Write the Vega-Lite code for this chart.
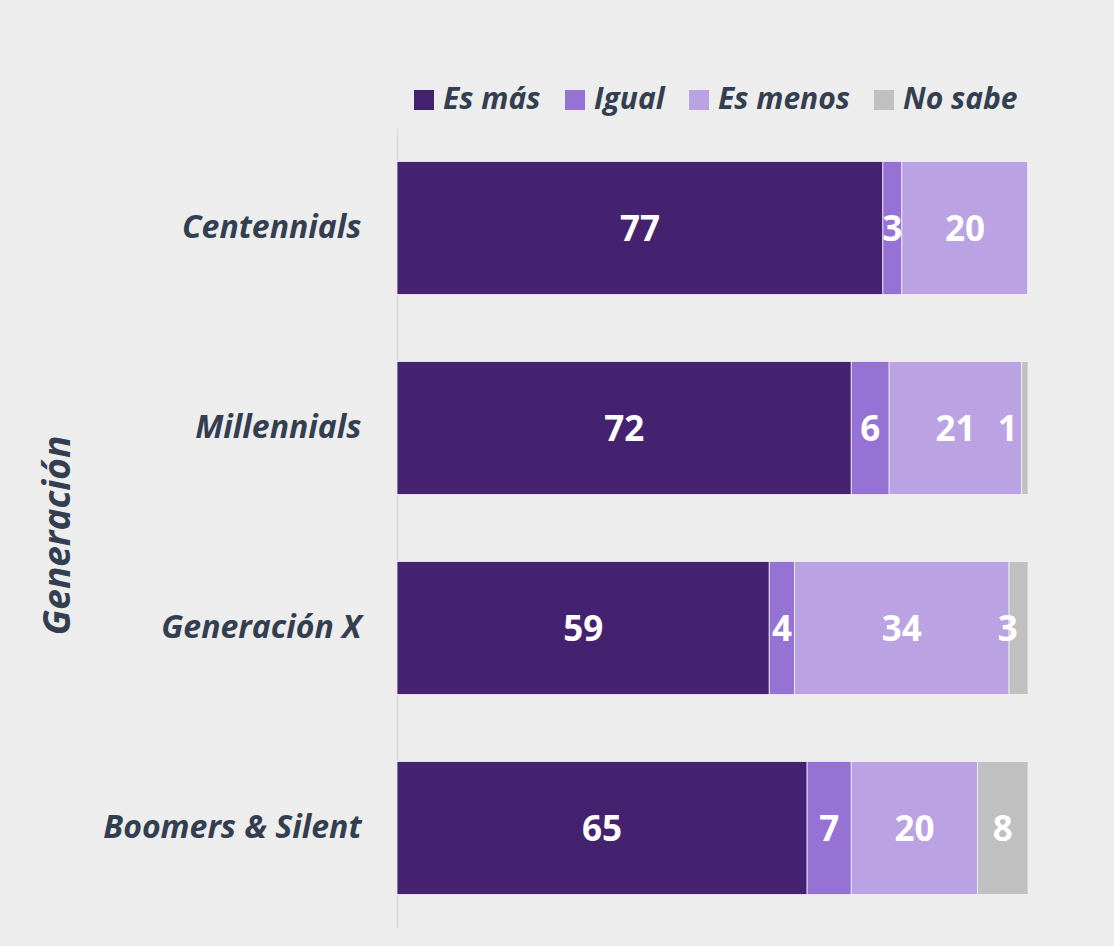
{
  "$schema": "https://vega.github.io/schema/vega-lite/v6.json",
  "autosize": {"type": "none"},
  "width": 631,
  "height": 800,
  "padding": {"left": 397, "top": 128, "right": 86, "bottom": 18},
  "background": "#EDEDED",
  "config": {"view": {"stroke": null}, "font": "Open Sans"},
  "data": {
    "values": [
      {"gen": "Centennials", "resp": "Es más", "n": 1, "pct": 77},
      {"gen": "Centennials", "resp": "Igual", "n": 2, "pct": 3},
      {"gen": "Centennials", "resp": "Es menos", "n": 3, "pct": 20},
      {"gen": "Centennials", "resp": "No sabe", "n": 4, "pct": 0},
      {"gen": "Millennials", "resp": "Es más", "n": 1, "pct": 72},
      {"gen": "Millennials", "resp": "Igual", "n": 2, "pct": 6},
      {"gen": "Millennials", "resp": "Es menos", "n": 3, "pct": 21},
      {"gen": "Millennials", "resp": "No sabe", "n": 4, "pct": 1},
      {"gen": "Generación X", "resp": "Es más", "n": 1, "pct": 59},
      {"gen": "Generación X", "resp": "Igual", "n": 2, "pct": 4},
      {"gen": "Generación X", "resp": "Es menos", "n": 3, "pct": 34},
      {"gen": "Generación X", "resp": "No sabe", "n": 4, "pct": 3},
      {"gen": "Boomers & Silent", "resp": "Es más", "n": 1, "pct": 65},
      {"gen": "Boomers & Silent", "resp": "Igual", "n": 2, "pct": 7},
      {"gen": "Boomers & Silent", "resp": "Es menos", "n": 3, "pct": 20},
      {"gen": "Boomers & Silent", "resp": "No sabe", "n": 4, "pct": 8}
    ]
  },
  "transform": [
    {"stack": "pct", "groupby": ["gen"], "sort": [{"field": "n", "order": "ascending"}], "as": ["x0", "x1"]},
    {"calculate": "min((datum.x0 + datum.x1) / 2, 96.8)", "as": "mid"}
  ],
  "encoding": {
    "y": {
      "field": "gen",
      "type": "nominal",
      "sort": ["Centennials", "Millennials", "Generación X", "Boomers & Silent"],
      "scale": {"paddingInner": 0.335, "paddingOuter": 0.1675},
      "axis": {
        "title": "Generación",
        "titleFont": "Open Sans",
        "titleFontSize": 37,
        "titleFontWeight": "bold",
        "titleFontStyle": "italic",
        "titleColor": "#333F50",
        "titleAngle": -90,
        "titleX": -339,
        "titleY": 407,
        "titleAlign": "center",
        "titleBaseline": "middle",
        "labelFont": "Open Sans",
        "labelFontSize": 32,
        "labelFontWeight": "bold",
        "labelFontStyle": "italic",
        "labelColor": "#333F50",
        "labelPadding": 36,
        "labelLimit": 400,
        "ticks": false,
        "domainColor": "#D9D9D9",
        "domainWidth": 1.5
      }
    }
  },
  "layer": [
    {
      "mark": {"type": "bar", "stroke": "#F4F0FA", "strokeWidth": 0.8},
      "encoding": {
        "x": {"field": "x0", "type": "quantitative", "scale": {"domain": [0, 100]}, "axis": null},
        "x2": {"field": "x1"},
        "color": {
          "field": "resp",
          "type": "nominal",
          "sort": ["Es más", "Igual", "Es menos", "No sabe"],
          "scale": {
            "domain": ["Es más", "Igual", "Es menos", "No sabe"],
            "range": ["#44226F", "#9672D5", "#BBA2E2", "#C0C0C0"]
          },
          "legend": {
            "title": null,
            "orient": "none",
            "direction": "horizontal",
            "legendX": 12,
            "legendY": -43,
            "symbolType": "square",
            "symbolSize": 400,
            "symbolStrokeWidth": 0,
            "labelFont": "Open Sans",
            "labelFontSize": 30,
            "labelFontWeight": "bold",
            "labelFontStyle": "italic",
            "labelColor": "#333F50",
            "labelOffset": 4,
            "columnPadding": 19,
            "labelLimit": 300
          }
        }
      }
    },
    {
      "transform": [{"filter": "datum.pct > 0"}],
      "mark": {"type": "text", "color": "white", "font": "Open Sans", "fontSize": 35, "fontWeight": "bold", "align": "center", "baseline": "middle", "dy": 2},
      "encoding": {
        "x": {"field": "mid", "type": "quantitative"},
        "text": {"field": "pct", "type": "quantitative"}
      }
    }
  ]
}
